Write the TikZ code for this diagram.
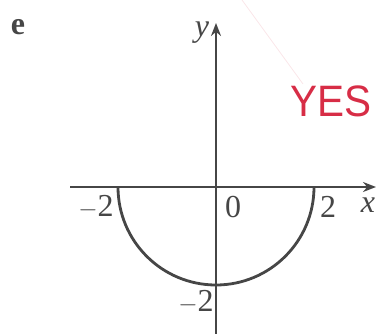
\documentclass[tikz,border=0pt]{standalone}
\usepackage{fontspec}
\setmainfont{Liberation Serif}
\newfontfamily\handfont{Liberation Sans}
\usetikzlibrary{arrows.meta}
\definecolor{ink}{RGB}{70,70,70}
\definecolor{pen}{RGB}{215,45,70}
\tikzset{
  axis/.style={draw=ink, line width=2.6pt, -{Stealth[length=13pt,width=10pt]}},
  curve/.style={draw=ink, line width=2.8pt},
  lab/.style={text=ink, font=\fontsize{32}{34}\selectfont, inner sep=0pt},
}
\begin{document}
\begin{tikzpicture}[x=1pt,y=-1pt]
\useasboundingbox (0,0) rectangle (377,334);
\coordinate (O) at (216,187);
\coordinate (xs) at (70,187);
\coordinate (xe) at (376,187);
\coordinate (ys) at (216,334);
\coordinate (ye) at (216,23);
\draw[pen!12, line width=0.8pt] (242,0) -- (303,84);
\draw[axis] (xs) -- (xe);
\draw[axis] (ys) -- (ye);
\draw[curve] (118,187) arc[start angle=180, end angle=0, radius=98];
\node[lab, font=\fontsize{32}{34}\selectfont\bfseries] (e) at (18,27) {e};
\node[lab, font=\fontsize{32}{34}\selectfont\itshape] (y) at (202,33) {y};
\node[lab, font=\fontsize{32}{34}\selectfont\itshape] (x) at (368,205) {x};
\node[lab] (m2x) at (96,207) {$-$2};
\node[lab] (z) at (233,207) {0};
\node[lab] (p2) at (328,207) {2};
\node[lab] (m2y) at (196,302) {$-$2};
\node[text=pen, font=\handfont\fontsize{44}{46}\selectfont, inner sep=0pt, xscale=0.92] (yes) at (331,101) {YES};
\end{tikzpicture}
\end{document}
